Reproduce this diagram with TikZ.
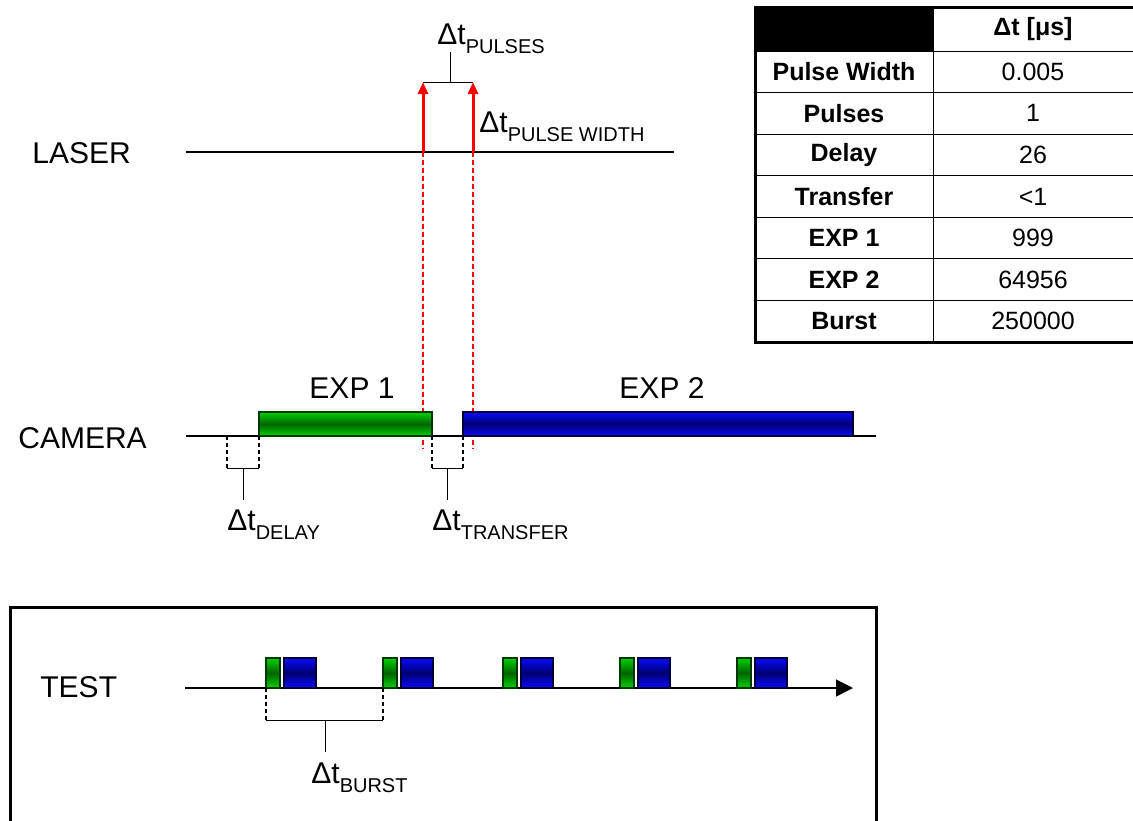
\documentclass[tikz,border=0pt]{standalone}
\usepackage{fontspec}
\setmainfont{Liberation Sans}
\usetikzlibrary{arrows.meta,positioning,calc}
\definecolor{grnlt}{RGB}{0,210,0}
\definecolor{grndk}{RGB}{0,100,0}
\definecolor{grnln}{RGB}{0,55,0}
\definecolor{blult}{RGB}{10,10,255}
\definecolor{bludk}{RGB}{0,0,115}
\definecolor{bluln}{RGB}{0,0,55}
\newcommand{\dtsub}[1]{Δt\raisebox{-4.7pt}{\fontsize{10}{12}\selectfont #1}}

\begin{document}
\begin{tikzpicture}[x=0.5pt, y=-0.5pt,
  font=\fontsize{15}{18}\selectfont, >={Triangle[length=6pt,width=5pt]},
  lbl/.style={inner sep=0pt, anchor=base west},
  sig/.style={draw=black, line width=0.6pt},
  brk/.style={draw=black, line width=0.5pt},
  gde/.style={draw=black, line width=0.6pt, dash pattern=on 2pt off 1.5pt},
  pls/.style={->, draw=red, line width=1.5pt},
  rdash/.style={draw=red, line width=1pt, dash pattern=on 2.5pt off 1.5pt},
  gbar/.style={draw=grnln, line width=0.6pt, top color=grnlt, bottom color=grnlt, middle color=grndk},
  bbar/.style={draw=bluln, line width=0.6pt, top color=blult, bottom color=blult, middle color=bludk},
  cell/.style={inner sep=0pt, font=\fontsize{12.5}{15}\selectfont},
  hcell/.style={cell, font=\fontsize{12.5}{15}\selectfont\bfseries}]
  \useasboundingbox (0,0) rectangle (1133,820);
  % tabla
  \fill[black] (755,7) rectangle (933,51);
  \draw[line width=0.5pt] (933,7) -- (933,342) (755,51) -- (1145,51);
  \foreach \k in {1,...,6}
    \draw[line width=0.5pt] (755,{51+41.57*\k}) -- (1145,{51+41.57*\k});
  \draw[line width=1.5pt] (755,7) rectangle (1145,342);
  \node[hcell] (hd) at (1033,29) {Δt [μs]};
  \foreach \rk/\vl [count=\i] in {Pulse Width/0.005, Pulses/1, Delay/26,
      Transfer/<1, EXP 1/999, EXP 2/64956, Burst/250000} {
    \node[hcell] (rk\i) at (844,{51+41.57*(\i-0.5)}) {\rk};
    \node[cell]  (vl\i) at (1033,{51+41.57*(\i-0.5)}) {\vl};
  }
  % laser
  \node[lbl] (laser) at (32,163) {LASER};
  \coordinate (p1) at (423,152); \coordinate (p2) at (473,152);
  \coordinate (p1t) at (423,82); \coordinate (p2t) at (473,82);
  \draw[sig] (186,152) -- (674,152);
  \draw[rdash] (p1) -- (423,449); \draw[rdash] (p2) -- (473,449);
  \draw[pls] (p1) -- (p1t); \draw[pls] (p2) -- (p2t);
  \draw[brk] (p1t) -- (p2t) (450,82) -- (450,52);
  \node[lbl] (dtp) at (437,44) {\dtsub{PULSES}};
  \node[lbl] (dtw) at (479,132) {\dtsub{PULSE WIDTH}};
  % camara
  \node[lbl] (camera) at (18,448) {CAMERA};
  \draw[sig] (186,436) -- (876,436);
  \path[gbar] (259,412) rectangle (432,436);
  \path[bbar] (463,412) rectangle (853,436);
  \node[anchor=base, inner sep=0pt] (e1) at (352,398) {EXP 1};
  \node[anchor=base, inner sep=0pt] (e2) at (662,398) {EXP 2};
  \foreach \xa/\xb/\nm in {227/259/dl, 432/463/tr} {
    \draw[gde] (\xa,436) -- (\xa,468) (\xb,436) -- (\xb,468);
    \draw[brk] (\xa,468) -- (\xb,468) ({(\xa+\xb)/2},468) -- ({(\xa+\xb)/2},500);
  }
  \node[lbl] (dtd) at (227,530) {\dtsub{DELAY}};
  \node[lbl] (dtt) at (432,530) {\dtsub{TRANSFER}};
  % test
  \draw[line width=1.5pt] (10,830) -- (10,607) -- (876,607) -- (876,830);
  \node[lbl] (test) at (40,697) {TEST};
  \draw[sig, -{Triangle[length=8.5pt,width=8.5pt]}] (185,688) -- (853,688);
  \foreach \bx in {266,383,503,620,737} {
    \path[gbar] (\bx,658) rectangle ++(14,30);
    \path[bbar] ({\bx+18},658) rectangle ++(32,30);
  }
  \draw[gde] (266,688) -- (266,720) (383,688) -- (383,720);
  \draw[brk] (266,720) -- (383,720) (325,720) -- (325,752);
  \node[lbl] (dtb) at (311,783) {\dtsub{BURST}};
\end{tikzpicture}
\end{document}
